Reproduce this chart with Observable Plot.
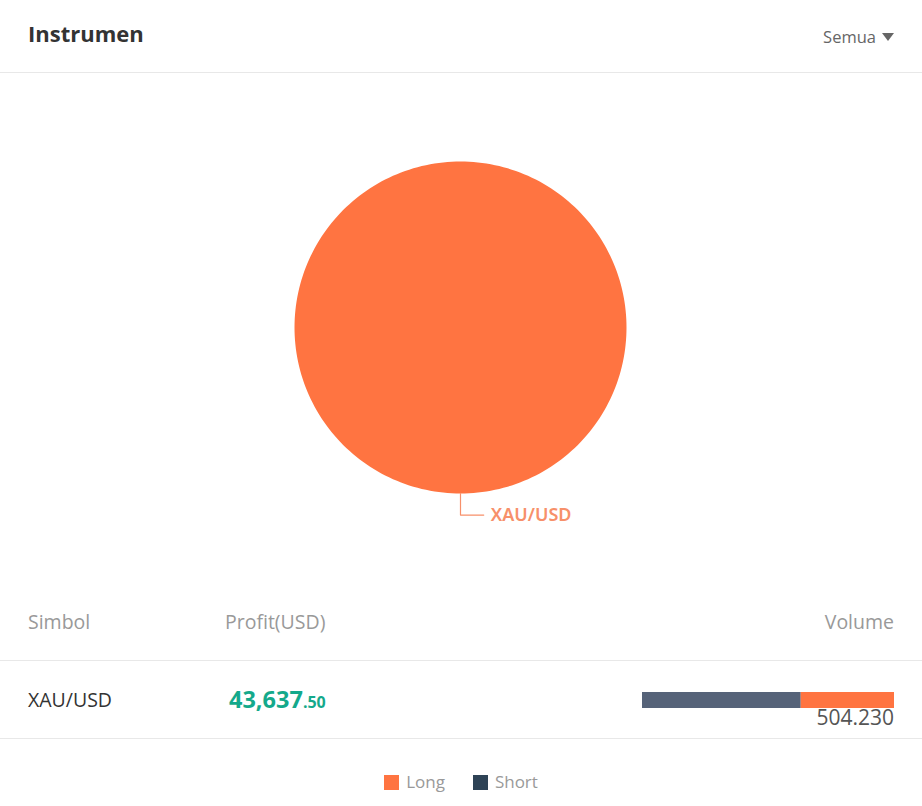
<!DOCTYPE html>
<html>
<head>
<meta charset="utf-8">
<script src="https://cdn.jsdelivr.net/npm/d3@7"></script>
<script src="https://cdn.jsdelivr.net/npm/@observablehq/plot@0.6"></script>
<style>
  html, body { margin: 0; padding: 0; background: #fff; }
  body { width: 922px; height: 806px; overflow: hidden; font-family: "Open Sans", "Noto Sans", sans-serif; position: relative; }
  .header { height: 72px; border-bottom: 1px solid #e8e8e8; position: relative; }
  .title { position: absolute; left: 28px; top: 18px; font-size: 22px; font-weight: 700; color: #333; }
  .filter { position: absolute; right: 28px; top: 25px; font-size: 16.5px; color: #666; }
  .filter .tri { display: inline-block; margin-left: 6px; width: 0; height: 0; border-left: 6px solid transparent; border-right: 6px solid transparent; border-top: 8px solid #666; vertical-align: 2px; }
  #pie { height: 517px; }
  .thead { position: relative; height: 70px; border-bottom: 1px solid #e8e8e8; color: #999; font-size: 19.5px; }
  .thead div { position: absolute; top: 18px; }
  .trow { position: relative; height: 77px; border-bottom: 1px solid #e8e8e8; }
  .sym { position: absolute; left: 28px; top: 25px; font-size: 19.5px; color: #333; }
  .profit { position: absolute; left: 229px; top: 22px; color: #14a98b; font-weight: 700; font-size: 23.5px; }
  .profit .dec { font-size: 16px; }
  #vol { position: absolute; left: 642px; top: 31px; }
  .volText { position: absolute; right: 28px; top: 46px; font-size: 21px; color: #555; line-height: 1; }
  .legend { position: absolute; top: 770px; left: 0; width: 922px; text-align: center; font-size: 17px; color: #999; }
  .legend span.item { display: inline-block; margin: 0 14px; }
  .legend span.sw { display: inline-block; width: 15px; height: 15px; vertical-align: -2px; margin-right: 7px; }
</style>
</head>
<body>
<script>
// ---- data ----
const symbols = ["XAU/USD"];
const pieValues = [504.23];
const profitInt = ["43,637"];
const profitDec = [".50"];
const volumeSeries = ["Short", "Long"];
const volumeValues = [317.6, 186.63];
const volumeTotal = ["504.230"];
const legendLabels = ["Long", "Short"];
const colors = { Long: "#ff7441", Short: "#566379", ShortLegend: "#2e4356", pie: "#ff7441", label: "#f7906a" };

// ---- header ----
const header = document.createElement("div");
header.className = "header";
header.innerHTML = `<div class="title">Instrumen</div><div class="filter">Semua<span class="tri"></span></div>`;
document.body.appendChild(header);

// ---- pie ----
const pieData = d3.pie().sort(null)(pieValues);
const wedgePts = [];
pieData.forEach((s, i) => {
  const n = 240;
  wedgePts.push({ k: i, x: 0, y: 0 });
  for (let j = 0; j <= n; j++) {
    const a = s.startAngle + (s.endAngle - s.startAngle) * j / n;
    wedgePts.push({ k: i, x: Math.sin(a), y: Math.cos(a) });
  }
  wedgePts.push({ k: i, x: 0, y: 0 });
});
const labelLines = [];
const labelTexts = [];
pieData.forEach((s, i) => {
  const a = (s.startAngle + s.endAngle) / 2;
  const side = Math.sin(a) < -1e-9 ? -1 : 1;
  const p0 = { x: Math.sin(a), y: Math.cos(a) };
  const p1 = { x: Math.sin(a) * 1.13, y: Math.cos(a) * 1.13 };
  const p2 = { x: p1.x + side * 0.14, y: p1.y };
  [p0, p1, p2].forEach(p => labelLines.push({ k: i, ...p }));
  labelTexts.push({ x: p2.x, y: p2.y, text: symbols[i], side });
});

const pieDiv = document.createElement("div");
pieDiv.id = "pie";
pieDiv.appendChild(Plot.plot({
  width: 922,
  height: 517,
  margin: 0,
  x: { domain: [-1, 1], range: [294, 626], axis: null },
  y: { domain: [-1, 1], range: [420, 88], axis: null },
  marks: [
    Plot.line(wedgePts, { x: "x", y: "y", z: "k", fill: colors.pie, stroke: "none", curve: "linear" }),
    Plot.line(labelLines, { x: "x", y: "y", z: "k", stroke: colors.label, strokeWidth: 1.2 }),
    Plot.text(labelTexts, { x: "x", y: "y", text: "text", dx: 7, textAnchor: "start", fill: colors.label, fontSize: 18, fontWeight: 600 })
  ]
}));
document.body.appendChild(pieDiv);

// ---- table ----
const thead = document.createElement("div");
thead.className = "thead";
thead.innerHTML = `<div style="left:28px">Simbol</div><div style="left:225px">Profit(USD)</div><div style="right:28px">Volume</div>`;
document.body.appendChild(thead);

symbols.forEach((sym, i) => {
  const row = document.createElement("div");
  row.className = "trow";
  row.innerHTML = `<div class="sym">${sym}</div><div class="profit">${profitInt[i]}<span class="dec">${profitDec[i]}</span></div><div id="vol"></div><div class="volText">${volumeTotal[i]}</div>`;
  document.body.appendChild(row);
  const volData = volumeSeries.map((s, j) => ({ series: s, value: volumeValues[j] }));
  row.querySelector("#vol").appendChild(Plot.plot({
    width: 252,
    height: 16,
    margin: 0,
    x: { domain: [0, d3.sum(volumeValues)], axis: null },
    color: { domain: volumeSeries, range: [colors.Short, colors.Long] },
    marks: [
      Plot.barX(volData, Plot.stackX({ x: "value", fill: "series", order: null }))
    ]
  }));
});

// ---- legend ----
const legend = document.createElement("div");
legend.className = "legend";
legend.innerHTML = legendLabels.map(l =>
  `<span class="item"><span class="sw" style="background:${l === "Long" ? colors.Long : colors.ShortLegend}"></span>${l}</span>`
).join("");
document.body.appendChild(legend);
</script>
</body>
</html>
